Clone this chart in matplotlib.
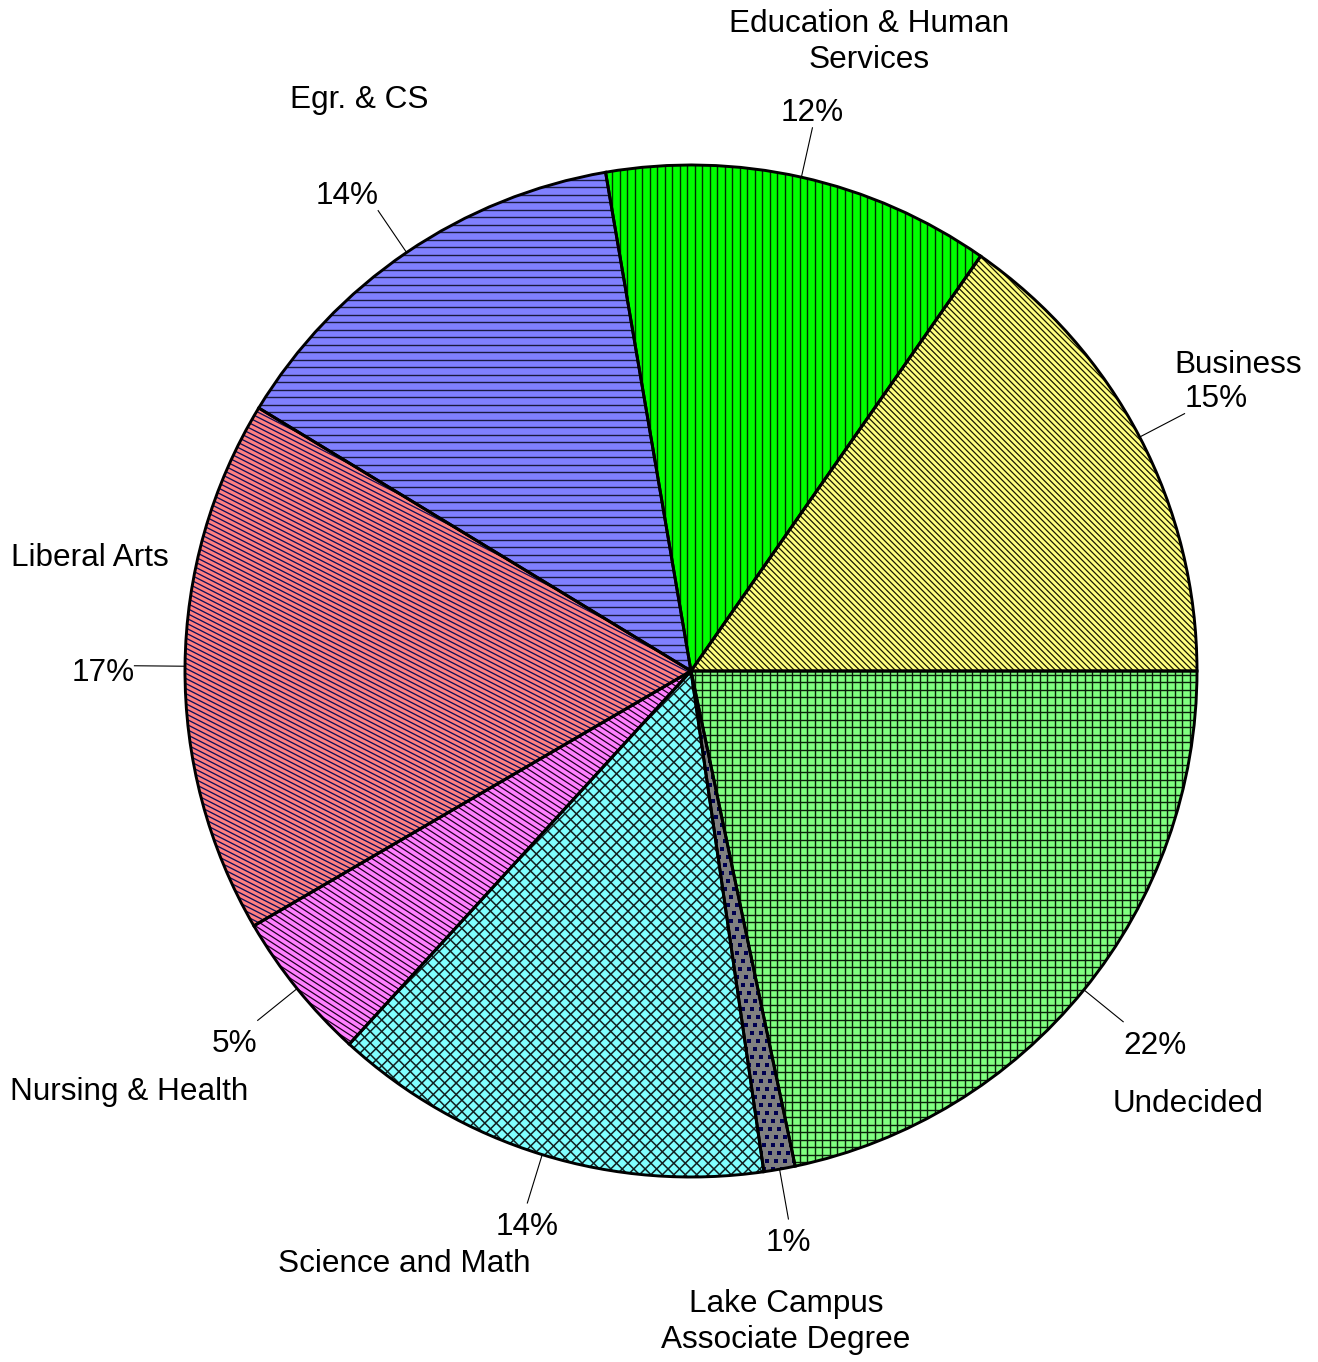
# %% Imports
import matplotlib.pyplot as plt
import numpy as np
from matplotlib.collections import LineCollection

plt.rcParams["font.family"] = ["Liberation Sans", "DejaVu Sans"]

# %% Data
categories = [
    "Business",
    "Education & Human\nServices",
    "Egr. & CS",
    "Liberal Arts",
    "Nursing & Health",
    "Science and Math",
    "Lake Campus\nAssociate Degree",
    "Undecided",
]
shares = [15.3, 12.4, 13.6, 17.1, 4.8, 14.1, 1.0, 21.7]
colors = ["#ffff80", "#00ff00", "#8080ff", "#ff8080", "#ff80ff", "#80ffff", "#808080", "#80ff80"]

# %% Layout (pixels, y from the top of the image)
W, H = 1318, 1362
cx, cy, R = 691, 671, 506
name_pos = [(1238, 365), (869, 42), (359, 100), (90, 558), (129, 1092), (404, 1264), (786, 1322), (1188, 1104)]

# hatch spec per slice: (angle, spacing px, colour, linewidth)
hatch_specs = [
    [(-45, 4.2, "#1a1a00", 0.9)],
    [(90, 7.5, "#003000", 1.0)],
    [(0, 7.5, "#1a1a40", 1.0)],
    [(-27, 4.5, "#10105a", 0.95)],
    [(-33, 5.0, "#200020", 0.9)],
    [(45, 8.1, "#102020", 1.1), (-45, 8.1, "#102020", 1.1)],
    [],
    [(0, 7.5, "#0a200a", 1.0), (90, 7.5, "#0a200a", 1.0)],
]
FS = 22.7


def hatch_lines(ax, wedge, angle, step, color, lw):
    t = np.deg2rad(angle)
    d = np.array([np.cos(t), np.sin(t)])
    n = np.array([-np.sin(t), np.cos(t)])
    c = np.array([cx, H - cy])
    offs = np.arange(-R - step, R + step, step)
    segs = [[c + o * n - 1.1 * R * d, c + o * n + 1.1 * R * d] for o in offs]
    lc = LineCollection(segs, colors=color, linewidths=lw, zorder=2)
    lc.set_clip_path(wedge)
    ax.add_collection(lc)


# %% Plot
fig = plt.figure(figsize=(W / 100, H / 100), dpi=100)
ax = fig.add_axes([0, 0, 1, 1])

wedges, _ = ax.pie(
    shares,
    colors=colors,
    startangle=0,
    counterclock=True,
    center=(cx, H - cy),
    radius=R,
    wedgeprops=dict(linewidth=0, zorder=1),
)
ax.pie(
    shares,
    colors=["none"] * len(shares),
    startangle=0,
    counterclock=True,
    center=(cx, H - cy),
    radius=R,
    wedgeprops=dict(edgecolor="black", linewidth=2.1, zorder=3),
)

for w, specs in zip(wedges, hatch_specs):
    for spec in specs:
        hatch_lines(ax, w, *spec)

# speckled fill for the small Lake Campus slice
gx, gy = np.meshgrid(np.arange(cx - R, cx + R, 9.0), np.arange(H - cy - R, H - cy + R, 8.0))
gx = gx + (np.arange(gx.shape[0])[:, None] % 3) * 3.0
dots = ax.scatter(gx.ravel(), gy.ravel(), s=6, marker="s", c="#000050", lw=0, zorder=2)
dots.set_clip_path(wedges[6])

# leader lines + percentages
for w, s in zip(wedges, shares):
    a = np.deg2rad((w.theta1 + w.theta2) / 2)
    x0, y0 = cx + R * np.cos(a), H - cy + R * np.sin(a)
    x1, y1 = cx + 1.1 * R * np.cos(a), H - cy + 1.1 * R * np.sin(a)
    ax.plot([x0, x1], [y0, y1], color="black", lw=0.8, zorder=4)
    ca, sa = np.cos(a), np.sin(a)
    ha = "center" if abs(ca) < 0.3 else ("left" if ca > 0 else "right")
    if abs(sa) < 0.3:
        va, ty = "center_baseline", y1 - 4
    elif sa > 0:
        va, ty = "bottom", y1
    else:
        va, ty = "top", y1 - 9
    ax.text(x1, ty, f"{s:.0f}%", ha=ha, va=va, fontsize=FS)

for name, (x, y) in zip(categories, name_pos):
    ax.text(x, H - y, name, ha="center", va="center", fontsize=FS, linespacing=1.22)

ax.set_xlim(0, W)
ax.set_ylim(0, H)
ax.set_aspect("auto")
ax.axis("off")

fig.savefig("out.png", dpi=100, facecolor="white")
